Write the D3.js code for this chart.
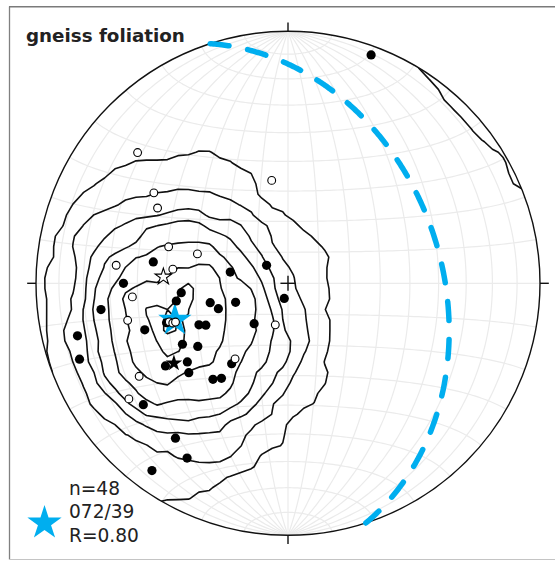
<!DOCTYPE html>
<html>
<head>
<meta charset="utf-8">
<script src="https://cdn.jsdelivr.net/npm/d3@7"></script>
<style>
  html, body { margin: 0; padding: 0; background: #fff; }
  svg { display: block; }
</style>
</head>
<body>
<svg id="chart" width="555" height="561"></svg>
<script>
// ---- data -------------------------------------------------------------
const title = "gneiss foliation";

// poles to foliation, [trend, plunge] in degrees (lower hemisphere)
const filledPoles = [
  [20, 4], [279, 45], [310, 81], [281, 71], [270, 35], [265, 55], [194, 85],
  [261, 53], [256, 64], [250, 66], [250, 72], [262, 26], [252, 48], [245, 58],
  [243, 60], [220, 73], [252, 40], [256, 15], [240, 50], [235, 54], [250, 13],
  [232, 48], [236, 41], [228, 46], [215, 58], [218, 50], [215, 52], [230, 26],
  [216, 25], [210, 21], [216, 9]
];
const openPoles = [
  [311, 22], [351, 56], [304, 36], [300, 40], [287, 49], [288, 59], [276, 32],
  [277, 52], [265, 38], [257, 35], [252, 49], [251, 50], [251, 51], [197, 76],
  [215, 60], [238, 31], [234, 23]
];

// mean foliation plane: dip direction / dip, and resultant length
const meanPlane = [72, 39];
const resultantR = 0.80;
// means of the filled and open subsets, [trend, plunge]
const filledMean = [235, 44];
const openMean = [273, 49];

// Kamb counting contours, in multiples of sigma
const kambSigma = 3;
const contourLevels = [2, 4, 6, 8, 10, 12, 14];
// net spacing in degrees
const netSpacing = 10;

// ---- geometry ---------------------------------------------------------
const cx = 288, cy = 283.3, R = 252;
const rad = Math.PI / 180;
const x = d3.scaleLinear().domain([-1, 1]).range([cx - R, cx + R]);
const y = d3.scaleLinear().domain([-1, 1]).range([cy + R, cy - R]);

// unit vector [east, north, down] of a line
function lineVec(trend, plunge) {
  const t = trend * rad, p = plunge * rad;
  return [Math.cos(p) * Math.sin(t), Math.cos(p) * Math.cos(t), Math.sin(p)];
}
// Lambert equal-area, lower hemisphere, onto the unit disk
function project(v) {
  let [e, n, d] = v;
  if (d < 0) { e = -e; n = -n; d = -d; }
  const k = 1 / Math.sqrt(1 + d);
  return [e * k, n * k];
}
function unproject(u, w) {
  let r2 = u * u + w * w;
  if (r2 > 1) { const r = Math.sqrt(r2); u /= r; w /= r; r2 = 1; }
  const s = Math.sqrt(2 - r2);
  return [u * s, w * s, 1 - r2];
}
// great circle of a plane given by dip direction / dip
function planeCurve(dipDir, dip, steps = 180) {
  const s = (dipDir - 90) * rad, dd = dipDir * rad, dp = dip * rad;
  const sv = [Math.sin(s), Math.cos(s), 0];
  const dv = [Math.cos(dp) * Math.sin(dd), Math.cos(dp) * Math.cos(dd), Math.sin(dp)];
  return d3.range(steps + 1).map(i => {
    const a = i / steps * Math.PI, c = Math.cos(a), sn = Math.sin(a);
    return project([sv[0] * c + dv[0] * sn, sv[1] * c + dv[1] * sn, sv[2] * c + dv[2] * sn]);
  });
}
// small circle about the N-S axis at angle beta from north
function smallCircle(beta, steps = 120) {
  const b = beta * rad;
  return d3.range(steps + 1).map(i => {
    const f = i / steps * Math.PI;
    return project([Math.sin(b) * Math.cos(f), Math.cos(b), Math.sin(b) * Math.sin(f)]);
  });
}

const svg = d3.select("#chart");
const line = d3.line().x(p => x(p[0])).y(p => y(p[1]));

// ---- frame ------------------------------------------------------------
svg.append("line").attr("x1", 9.5).attr("x2", 9.5).attr("y1", 6.5).attr("y2", 559.5)
  .attr("stroke", "#808080").attr("stroke-width", 1.3);
svg.append("line").attr("x1", 9).attr("x2", 555).attr("y1", 6.8).attr("y2", 6.8)
  .attr("stroke", "#7a7a7a").attr("stroke-width", 1.4);
svg.append("line").attr("x1", 9).attr("x2", 555).attr("y1", 559.5).attr("y2", 559.5)
  .attr("stroke", "#c4c4c4").attr("stroke-width", 1.2);

// ---- equal-area net ---------------------------------------------------
const net = svg.append("g").attr("fill", "none").attr("stroke", "#ebebeb").attr("stroke-width", 1.2);
for (let dip = netSpacing; dip <= 90; dip += netSpacing) {
  net.append("path").attr("d", line(planeCurve(90, dip)));
  if (dip < 90) net.append("path").attr("d", line(planeCurve(270, dip)));
}
for (let beta = netSpacing; beta < 180; beta += netSpacing) {
  net.append("path").attr("d", line(smallCircle(beta)));
}

// ---- Kamb density contours ------------------------------------------
const allPoles = filledPoles.concat(openPoles);
const vecs = allPoles.map(p => lineVec(p[0], p[1]));
const nPts = vecs.length;
const areaFrac = kambSigma * kambSigma / (nPts + kambSigma * kambSigma);
const cosCut = 1 - areaFrac;
const unitK = Math.sqrt(nPts * cosCut * areaFrac);
const G = 50, margin = 1.04, step = 2 * margin / G;
const raw = new Float64Array(G * G);
for (let j = 0; j < G; j++) {
  for (let i = 0; i < G; i++) {
    const g = unproject(-margin + (i + 0.5) * step, margin - (j + 0.5) * step);
    let count = 0;
    for (const v of vecs) {
      const c = Math.abs(g[0] * v[0] + g[1] * v[1] + g[2] * v[2]);
      if (c >= cosCut) count += 1;
    }
    raw[j * G + i] = Math.max(0, (count - 0.5) / unitK);
  }
}
// light 3x3 binomial smoothing of the counting grid
const grid = new Float64Array(G * G);
const wts = [1, 2, 1];
for (let j = 0; j < G; j++) {
  for (let i = 0; i < G; i++) {
    let s = 0, ws = 0;
    for (let b = -1; b <= 1; b++) for (let a = -1; a <= 1; a++) {
      const ii = i + a, jj = j + b;
      if (ii < 0 || jj < 0 || ii >= G || jj >= G) continue;
      const w = wts[a + 1] * wts[b + 1];
      s += w * raw[jj * G + ii]; ws += w;
    }
    grid[j * G + i] = 0.5 * raw[j * G + i] + 0.5 * s / ws;
  }
}
const contours = d3.contours().size([G, G]).thresholds(contourLevels)(grid);
const gridToPx = d3.geoTransform({
  point(px, py) { this.stream.point(x(-margin + px * step), y(margin - py * step)); }
});
const cpath = d3.geoPath(gridToPx);

svg.append("clipPath").attr("id", "prim")
  .append("circle").attr("cx", cx).attr("cy", cy).attr("r", R);
svg.append("g").attr("clip-path", "url(#prim)")
  .selectAll("path").data(contours).join("path")
  .attr("d", cpath).attr("fill", "none").attr("stroke", "#111")
  .attr("stroke-width", 1.6).attr("stroke-linejoin", "round");

// primitive circle
svg.append("circle").attr("cx", cx).attr("cy", cy).attr("r", R)
  .attr("fill", "none").attr("stroke", "#111").attr("stroke-width", 1.4);

// cardinal ticks and centre cross
const ticks = svg.append("g").attr("stroke", "#111").attr("stroke-width", 1.4);
[[0, 1], [0, -1], [1, 0], [-1, 0]].forEach(([a, b]) => {
  ticks.append("line")
    .attr("x1", x(a)).attr("y1", y(b))
    .attr("x2", x(a * 1.035)).attr("y2", y(b * 1.035));
});
ticks.append("line").attr("x1", x(-0.03)).attr("x2", x(0.03)).attr("y1", y(0)).attr("y2", y(0));
ticks.append("line").attr("x1", x(0)).attr("x2", x(0)).attr("y1", y(-0.03)).attr("y2", y(0.03));

// ---- mean plane (great circle) ----------------------------------------
const blue = "#00aeef";
svg.append("path").attr("d", line(planeCurve(meanPlane[0], meanPlane[1], 400)))
  .attr("fill", "none").attr("stroke", blue).attr("stroke-width", 5.5)
  .attr("stroke-linecap", "round").attr("stroke-dasharray", "19 19");

// mean pole
const meanPole = project(lineVec((meanPlane[0] + 180) % 360, 90 - meanPlane[1]));
const star = size => d3.symbol(d3.symbolStar, size)();
svg.append("path").attr("d", star(345))
  .attr("transform", `translate(${x(meanPole[0])},${y(meanPole[1])})`)
  .attr("fill", blue);

// ---- poles --------------------------------------------------------------
svg.append("g").selectAll("circle").data(filledPoles.map(p => project(lineVec(p[0], p[1]))))
  .join("circle").attr("cx", d => x(d[0])).attr("cy", d => y(d[1])).attr("r", 4.6)
  .attr("fill", "#000");
svg.append("g").selectAll("circle").data(openPoles.map(p => project(lineVec(p[0], p[1]))))
  .join("circle").attr("cx", d => x(d[0])).attr("cy", d => y(d[1])).attr("r", 3.9)
  .attr("fill", "#fff").attr("stroke", "#000").attr("stroke-width", 1.1);

// subset means
const fm = project(lineVec(filledMean[0], filledMean[1]));
svg.append("path").attr("d", star(85))
  .attr("transform", `translate(${x(fm[0])},${y(fm[1])})`).attr("fill", "#000");
const om = project(lineVec(openMean[0], openMean[1]));
svg.append("path").attr("d", star(85))
  .attr("transform", `translate(${x(om[0])},${y(om[1])})`)
  .attr("fill", "#fff").attr("stroke", "#000").attr("stroke-width", 1.1);

// ---- title and legend ----------------------------------------------------
svg.append("text").attr("x", 26).attr("y", 42).text(title)
  .attr("font-family", "DejaVu Sans, sans-serif").attr("font-weight", "bold")
  .attr("font-size", 18.3).attr("fill", "#222");

svg.append("path").attr("d", star(365))
  .attr("transform", "translate(44.5,523)").attr("fill", blue);
const fmt3 = d3.format("03d"), fmt2 = d3.format("02d");
const legendLines = [
  `n=${allPoles.length}`,
  `${fmt3(meanPlane[0])}/${fmt2(meanPlane[1])}`,
  `R=${d3.format(".2f")(resultantR)}`
];
svg.append("g").selectAll("text").data(legendLines).join("text")
  .attr("x", 69).attr("y", (d, i) => 495 + i * 23.4).text(d => d)
  .attr("font-family", "DejaVu Sans, sans-serif").attr("font-size", 18.6).attr("fill", "#222");
</script>
</body>
</html>
